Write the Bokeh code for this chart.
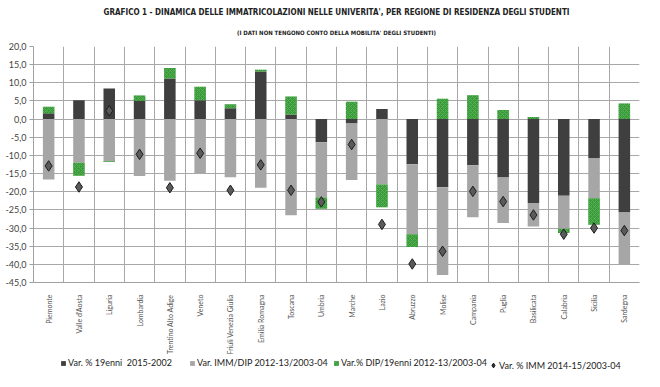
import numpy as np
from math import pi
from bokeh.plotting import figure
from bokeh.layouts import column
from bokeh.models import (Range1d, FixedTicker, Legend, LegendItem, Title, ColumnDataSource)
from bokeh.embed import file_html
from bokeh.resources import INLINE

regions = ["Piemonte", "Valle d'Aosta", "Liguria", "Lombardia", "Trentino Alto Adige",
           "Veneto", "Friuli Venezia Giulia", "Emilia Romagna", "Toscana", "Umbria",
           "Marche", "Lazio", "Abruzzo", "Molise", "Campania", "Puglia", "Basilicata",
           "Calabria", "Sicilia", "Sardegna"]

var_19enni = [1.6, 5.2, 8.4, 5.0, 11.2, 5.2, 3.0, 13.1, 1.3, -6.4,
              -1.2, 2.8, -12.4, -18.8, -12.7, -16.1, -23.1, -21.1, -10.7, -25.7]
var_imm_dip = [-16.6, -12.0, -11.6, -15.7, -17.0, -14.9, -16.0, -18.9, -26.5, -15.2,
               -15.6, -18.0, -19.3, -24.1, -14.3, -12.5, -6.5, -9.1, -11.1, -14.2]
var_dip_19enni = [1.8, -3.6, -0.2, 1.5, 2.9, 3.7, 1.1, 0.5, 4.9, -3.1,
                  4.8, -6.3, -3.5, 5.6, 6.6, 2.5, 0.6, -1.2, -7.3, 4.3]
var_imm = [-12.9, -18.7, 2.3, -9.7, -18.9, -9.4, -19.6, -12.6, -19.6, -22.8,
           -7.0, -29.0, -39.9, -36.4, -19.9, -22.7, -26.4, -31.7, -30.0, -30.7]

series_names = ["Var. % 19enni  2015-2002", "Var. IMM/DIP 2012-13/2003-04",
                "Var.% DIP/19enni 2012-13/2003-04", "Var. % IMM 2014-15/2003-04"]

y_ticks = [-45, -40, -35, -30, -25, -20, -15, -10, -5, 0, 5, 10, 15, 20]
y_tick_labels = [f"{t:.1f}".replace(".", ",") for t in y_ticks]

title_text = "GRAFICO 1 - DINAMICA DELLE IMMATRICOLAZIONI NELLE UNIVERITA', PER REGIONE DI RESIDENZA DEGLI STUDENTI"
subtitle_text = "(I DATI NON TENGONO CONTO DELLA MOBILITA' DEGLI STUDENTI)"

n = len(regions)
xs = np.arange(n)

colors = ["#3f3f3f", "#a6a6a6", "#3a9a3a"]
green_hatch = dict(hatch_pattern="diagonal_cross", hatch_color="#5cb85c", hatch_scale=4, hatch_weight=0.8)

p = figure(width=644, height=357, output_backend="svg", toolbar_location=None,
           x_range=Range1d(-0.5, n - 0.5), y_range=Range1d(-45, 20),
           min_border_left=33, min_border_right=5, min_border_top=46, min_border_bottom=74)
p.outline_line_color = None
p.background_fill_color = "white"

# titles
p.add_layout(Title(text=subtitle_text, align="center", text_font="DejaVu Sans Condensed",
                   text_font_size="6px", text_font_style="bold", text_color="#222222",
                   standoff=21), "above")
p.add_layout(Title(text=title_text, align="center", text_font="DejaVu Sans Condensed",
                   text_font_size="8px", text_font_style="bold", text_color="#222222",
                   standoff=0), "above")

# stacked bars (Excel-style positive/negative stacking)
pos = np.zeros(n)
neg = np.zeros(n)
for i, vals in enumerate([var_19enni, var_imm_dip, var_dip_19enni]):
    v = np.array(vals, dtype=float)
    bottom = np.where(v >= 0, pos, neg)
    top = bottom + v
    pos = np.where(v >= 0, top, pos)
    neg = np.where(v < 0, top, neg)
    src = ColumnDataSource(dict(x=xs, bottom=bottom, top=top))
    kw = green_hatch if i == 2 else {}
    p.vbar(x="x", bottom="bottom", top="top", width=0.38, source=src,
           fill_color=colors[i], line_color=None, **kw)

p.scatter(xs, var_imm, marker="diamond", size=10.5, fill_color="#5a5a5a",
          line_color="#1e1e1e", line_width=1)

# axes
p.xaxis.ticker = FixedTicker(ticks=list(xs))
p.xaxis.major_label_overrides = {int(i): name for i, name in zip(xs, regions)}
p.xaxis.major_label_orientation = pi / 2
p.xaxis.major_label_text_font = "Lato"
p.xaxis.major_label_text_font_size = "7px"
p.xaxis.major_label_text_color = "#555555"
p.xaxis.major_tick_line_color = None
p.xaxis.minor_tick_line_color = None
p.xaxis.axis_line_color = "#a0a0a0"
p.xaxis.major_label_standoff = 6

p.yaxis.ticker = FixedTicker(ticks=y_ticks)
p.yaxis.major_label_overrides = {t: lab for t, lab in zip(y_ticks, y_tick_labels)}
p.yaxis.major_label_text_font = "Lato"
p.yaxis.major_label_text_font_size = "9px"
p.yaxis.major_label_text_color = "#444444"
p.yaxis.major_tick_in = 0
p.yaxis.major_tick_out = 4
p.yaxis.major_tick_line_color = "#a0a0a0"
p.yaxis.minor_tick_line_color = None
p.yaxis.axis_line_color = "#a0a0a0"
p.yaxis.major_label_standoff = 3

p.xgrid.ticker = FixedTicker(ticks=[i + 0.5 for i in range(n)])
p.xgrid.grid_line_color = "#a8a8a8"
p.ygrid.ticker = FixedTicker(ticks=y_ticks)
p.ygrid.grid_line_color = "#a8a8a8"

# legend strip below the chart (legend-only swatch renderers, nothing drawn in the strip)
lp = figure(width=644, height=14, output_backend="svg", toolbar_location=None,
            x_range=Range1d(0, 1), y_range=Range1d(0, 1), min_border=0)
lp.axis.visible = False
lp.grid.visible = False
lp.outline_line_color = None
swatch = ColumnDataSource(dict(x=[np.nan], top=[np.nan]))
leg_renderers = []
for i in range(3):
    kw = green_hatch if i == 2 else {}
    leg_renderers.append(lp.vbar(x="x", top="top", width=0.1, source=swatch,
                                 fill_color=colors[i], line_color=None, **kw))
leg_renderers.append(lp.scatter(x="x", y="top", source=swatch, marker="diamond",
                                fill_color="#333333", line_color="#1e1e1e", line_width=1))

legend_x = [27, 156, 300, 454]
for j, (r, name, lx) in enumerate(zip(leg_renderers, series_names, legend_x)):
    g = 6 if j < 3 else 12
    lg = Legend(items=[LegendItem(label=name, renderers=[r])], location=(lx, 0 if j == 3 else 3),
                orientation="horizontal", border_line_color=None, background_fill_alpha=0,
                padding=0, margin=0, glyph_width=g, glyph_height=g, label_standoff=2 if j < 3 else 0,
                label_text_font="Lato", label_text_font_size="9px",
                label_text_color="#222222", label_height=8, spacing=0)
    lp.add_layout(lg, "center")

open("out.html", "w").write(file_html(column(p, lp, spacing=0), INLINE))
